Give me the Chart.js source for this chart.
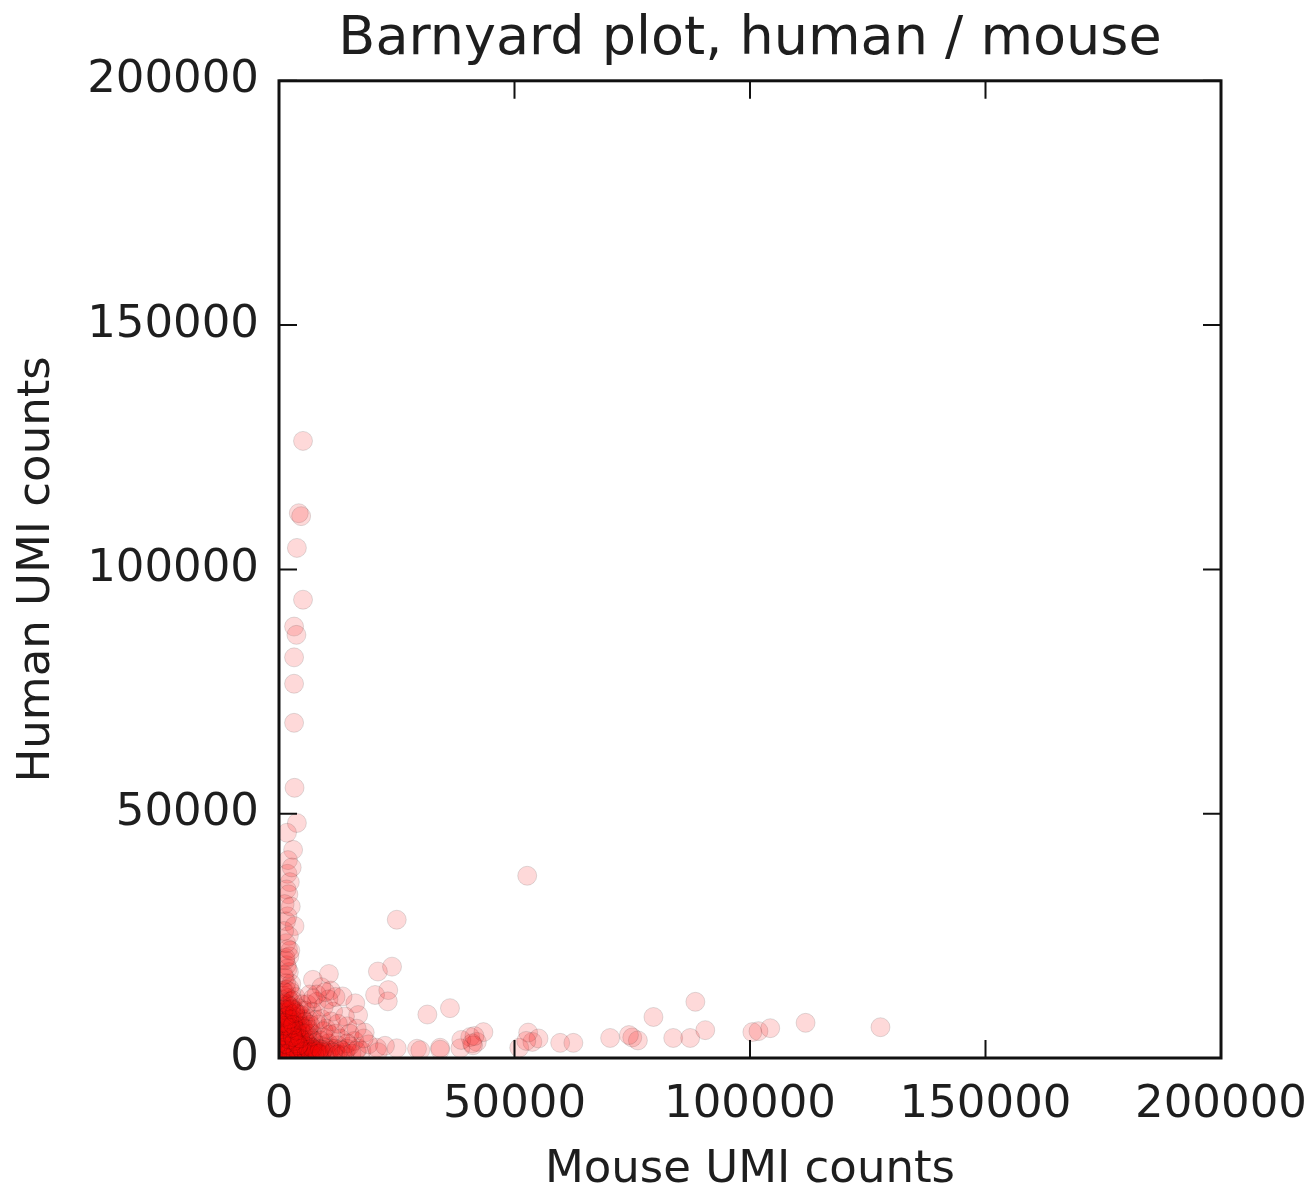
<!DOCTYPE html>
<html>
<head>
<meta charset="utf-8">
<title>Barnyard plot</title>
<script src="https://cdn.jsdelivr.net/npm/chart.js@4/dist/chart.umd.min.js"></script>
<style>
  body { margin: 0; background: #fff; }
  canvas { display: block; }
</style>
</head>
<body>
<canvas id="myChart" width="1309" height="1191"></canvas>
<script>
// mouse UMI counts per cell barcode (x)
var mouseCounts = [
  // human cells, column near x = 0
  5100, 4200, 4700, 3800, 5100, 3200, 3700, 3200, 3200, 3200, 3300, 3800, 1700, 3000, 1900, 1800,
  2300, 1600, 2000, 1800, 1500, 3300, 2100, 1900, 2400, 1400, 1600, 2100, 1200, 2600, 1500, 900,
  // mixed / scattered
  52700, 25000, 7200, 10600, 21000, 24000, 20400, 23200, 23100, 16200, 16800, 31500, 36300, 13500, 11000, 9000,
  14500, 18200,
  // mouse cells, row near y = 0
  40600, 42000, 43400, 41200, 53800, 52900, 51000, 55100, 59700, 62500, 70300, 75000, 76200, 74300, 79500, 83700,
  87300, 88400, 90500, 100500, 101800, 104300, 111800, 127700, 16800, 20800, 25000, 29300, 34200, 38500, 30000, 34200,
  38700, 41000, 41500, 52500,
  // small cells / empty droplets near origin
  600, 1200, 2000, 800, 1500, 2500, 3000, 400, 1000, 1800, 2800, 3500, 4200, 700, 1400, 2200,
  3200, 4000, 5000, 5500, 600, 1300, 2000, 900, 2700, 3600, 4500, 5200, 6000, 6500, 7000, 1600,
  500, 3000, 4000, 5000, 6000, 7000, 7500, 8000, 8500, 9000, 9500, 10000, 10500, 11000, 12000, 12500,
  13000, 14000, 15000, 8200, 9000, 10000, 11000, 12000, 13000, 11500, 7000, 6000, 8000, 9500, 10500, 300,
  1000, 1800, 2600, 3400, 4800, 200, 350, 1100, 2200, 3800, 4500, 5800, 6800, 300, 1700, 2900,
  3900, 5000, 6200, 7800, 300, 700, 1800, 2500, 3500, 4800, 5500, 300, 1200, 2500, 6500, 8000,
  12000, 14000, 15000, 16000, 17500, 19000, 18000, 21000, 22500, 13500, 5800, 2300, 4000, 3300, 800, 1500,
  2900, 1900, 2600, 3400, 4300, 600, 1100, 4200, 9500, 10800, 8800, 7300, 6300, 12500, 14500, 16500,
  9800, 7200, 500, 900, 1300, 700, 1600, 2400, 400, 1100,
  500, 900, 1400, 1900, 2400, 2900, 3400, 3900, 4400, 4900, 5400, 5900, 6400, 6900, 7400, 7900,
  8400, 8900, 9400, 9900, 10400, 10900, 11400, 11900, 12400, 13400, 14400, 15400, 16400,
  700, 1300, 1900, 2500, 3100, 3700, 4300, 4900, 5500, 6100, 6700, 7300,
  600, 1200, 1800, 2400, 3000, 3600, 4200, 4800, 5400, 6000,
  700, 1300, 2000, 2700, 3300, 3900, 4600, 5300, 6600,
  800, 1500, 2300, 3100, 3800, 4700, 5600,
  900, 1700, 2500, 3400, 1100, 1900, 2900, 800, 1500, 2200,
  1000, 1800, 1300, 2200, 1500, 1100, 2500, 1200, 2700,
  // extra density in the core
  400, 800, 1200, 1600, 2000, 2400, 2800, 3200, 3600, 4000, 600, 1000, 1400, 1800, 2200, 2600,
  3000, 3400, 800, 1300, 1800, 2300, 2800, 500, 1000, 1500, 2000,
  300, 700, 1100, 1500, 1900, 2300, 2700, 3100, 3500, 3900, 4300, 4700, 5100, 5500, 5900, 6300,
  6700, 7100, 7500, 7900, 8300, 8700, 9100, 500, 900, 1300, 1700, 2100, 2500, 2900, 3300, 3700,
  4100, 4500, 600, 1000, 1400, 1800, 2200, 2600, 3000, 3400
];
// human UMI counts per cell barcode (y)
var humanCounts = [
  126300, 111500, 110900, 104400, 93800, 88300, 86600, 82000, 76600, 68600, 55300, 48100, 46100, 42600, 40500, 37700,
  36000, 34500, 33500, 29000, 28000, 27000, 25000, 22300, 22000, 20500, 19000, 17600, 16400, 15200, 14000, 12800,
  37300, 28300, 16000, 17200, 17700, 18700, 12900, 13900, 11600, 11200, 8800, 8900, 10200, 12600, 13800, 14500,
  6500, 5200,
  4300, 3300, 5300, 2600, 3300, 5200, 2100, 4000, 3100, 3100, 4100, 4200, 3600, 4700, 8400, 4100,
  4100, 11500, 5700, 5300, 5500, 6100, 7200, 6300, 2000, 2100, 2000, 1900, 2100, 2000, 1600, 1700,
  3700, 3000, 4500, 3500,
  800, 1500, 600, 2500, 3200, 2000, 900, 4000, 5200, 4500, 3600, 2500, 1200, 6200, 7000, 6000,
  5000, 4000, 2000, 900, 8000, 8800, 9500, 10500, 8000, 7000, 5800, 4500, 3200, 1500, 600, 11200,
  12000, 10000, 9000, 8000, 6500, 5000, 3000, 1800, 900, 2500, 4200, 1200, 3000, 2000, 1000, 2600,
  1800, 1100, 2400, 6800, 8000, 6000, 7500, 5000, 4000, 9500, 9500, 11000, 11500, 10500, 12000, 300,
  300, 1200, 400, 1600, 500, 1800, 3000, 4000, 3000, 3300, 2800, 2400, 4000, 5500, 5800, 6800,
  5800, 6500, 8000, 7800, 7200, 9200, 10000, 11500, 12500, 11000, 9700, 9800, 13500, 13500, 13000, 13000,
  12500, 8500, 5000, 3500, 1500, 2800, 4000, 1200, 2500, 600, 600, 200, 300, 400, 1200, 2200,
  1400, 7800, 9000, 8400, 7300, 11000, 6600, 10200, 5500, 4800, 3600, 2200, 5800, 7000, 3000, 6000,
  13500, 12200, 2000, 3500, 1000, 4800, 2700, 1000, 1500, 2300,
  500, 900, 600, 1100, 1500, 700, 1100, 1800, 900, 1400, 1800, 1200, 700, 1300, 1700, 900,
  1400, 700, 1600, 2100, 800, 1500, 1100, 1900, 700, 1500, 1900, 900, 1500,
  2000, 2600, 3300, 2700, 3200, 2200, 2600, 3100, 3600, 2800, 2300, 3600,
  3600, 4300, 4900, 4100, 4600, 4100, 4800, 5300, 4900, 5000,
  5000, 5600, 6300, 5300, 5900, 6600, 6500, 6000, 6800,
  7500, 8300, 7300, 7800, 8400, 8800, 7400,
  9300, 9800, 10400, 9600, 11300, 12300, 11800, 13800, 15300, 14300,
  17000, 18300, 20000, 20800, 23500, 26000, 31000, 31500, 39000,
  700, 1300, 500, 1700, 900, 2300, 1500, 700, 2000, 1100, 2700, 3500, 2900, 600, 3900, 1800,
  4400, 3000, 5400, 4600, 6100, 6800, 5100, 8200, 9900, 7100, 10800,
  1000, 400, 1600, 800, 2600, 1200, 500, 2200, 1000, 3000, 700, 1900, 1300, 2500, 800, 1700,
  1100, 2000, 600, 1400, 900, 1800, 1200, 3300, 4600, 2900, 5200, 3800, 6100, 4300, 3500, 5600,
  2600, 4000, 5900, 7200, 6600, 8600, 7900, 10000, 6800, 9200
];
var tickValues = [0, 50000, 100000, 150000, 200000];

var fontFamily = "'DejaVu Sans', 'Liberation Sans', sans-serif";
var textColor = '#1e1e1e';

var points = [];
for (var i = 0; i < mouseCounts.length; i++) {
  points.push({ x: mouseCounts[i], y: humanCounts[i] });
}

// matplotlib-style box with inward ticks on all four sides
var frameTicks = {
  id: 'frameTicks',
  afterDatasetsDraw: function (chart) {
    var ctx = chart.ctx;
    var a = chart.chartArea;
    var xs = chart.scales.x;
    var ys = chart.scales.y;
    var len = 18;
    ctx.save();
    ctx.strokeStyle = '#111111';
    ctx.lineWidth = 2;
    ctx.beginPath();
    xs.ticks.forEach(function (t) {
      var px = xs.getPixelForValue(t.value);
      ctx.moveTo(px, a.bottom);
      ctx.lineTo(px, a.bottom - len);
      ctx.moveTo(px, a.top);
      ctx.lineTo(px, a.top + len);
    });
    ys.ticks.forEach(function (t) {
      var py = ys.getPixelForValue(t.value);
      ctx.moveTo(a.left, py);
      ctx.lineTo(a.left + len, py);
      ctx.moveTo(a.right, py);
      ctx.lineTo(a.right - len, py);
    });
    ctx.stroke();
    ctx.lineWidth = 3;
    ctx.strokeRect(a.left, a.top, a.right - a.left, a.bottom - a.top);
    ctx.restore();
  }
};

window.onload = function () {
  var ctx = document.getElementById('myChart').getContext('2d');
  var myChart = new Chart(ctx, {
    type: 'scatter',
    data: {
      datasets: [
        {
          label: 'cells',
          data: points,
          backgroundColor: 'rgba(250, 0, 0, 0.15)',
          borderColor: 'rgba(0, 0, 0, 0.12)',
          borderWidth: 1,
          pointRadius: 9.5,
          clip: 0,
        },
      ],
    },
    options: {
      responsive: false,
      animation: false,
      devicePixelRatio: 1,
      layout: { padding: { left: 0, right: 88, top: 0, bottom: 0 } },
      plugins: {
        legend: { display: false },
        tooltip: { enabled: false },
        title: {
          display: true,
          fullSize: false,
          text: 'Barnyard plot, human / mouse',
          color: textColor,
          font: { family: fontFamily, size: 54, weight: 'normal', lineHeight: 1.2 },
          padding: { top: 8, bottom: 8 },
        },
      },
      scales: {
        x: {
          type: 'linear',
          min: 0,
          max: 200000,
          afterBuildTicks: function (scale) {
            scale.ticks = tickValues.map(function (v) { return { value: v }; });
          },
          afterFit: function (scale) {
            scale.height = 133;
            scale.paddingLeft = 0;
            scale.paddingRight = 0;
          },
          grid: { display: false, drawTicks: false },
          border: { display: false },
          ticks: {
            padding: 20,
            maxRotation: 0,
            autoSkip: false,
            color: textColor,
            font: { family: fontFamily, size: 45 },
            callback: function (value) { return String(value); },
          },
          title: {
            display: true,
            text: 'Mouse UMI counts',
            color: textColor,
            font: { family: fontFamily, size: 45 },
            padding: { top: 0, bottom: -6 },
          },
        },
        y: {
          type: 'linear',
          min: 0,
          max: 200000,
          afterBuildTicks: function (scale) {
            scale.ticks = tickValues.map(function (v) { return { value: v }; });
          },
          afterFit: function (scale) {
            scale.width = 279;
            scale.paddingTop = 0;
            scale.paddingBottom = 0;
          },
          grid: { display: false, drawTicks: false },
          border: { display: false },
          ticks: {
            padding: 20,
            autoSkip: false,
            color: textColor,
            font: { family: fontFamily, size: 45 },
            callback: function (value) { return String(value); },
          },
          title: {
            display: true,
            text: 'Human UMI counts',
            color: textColor,
            font: { family: fontFamily, size: 45 },
            padding: { top: 10, bottom: 0 },
          },
        },
      },
    },
    plugins: [frameTicks],
  });
};
</script>
</body>
</html>
